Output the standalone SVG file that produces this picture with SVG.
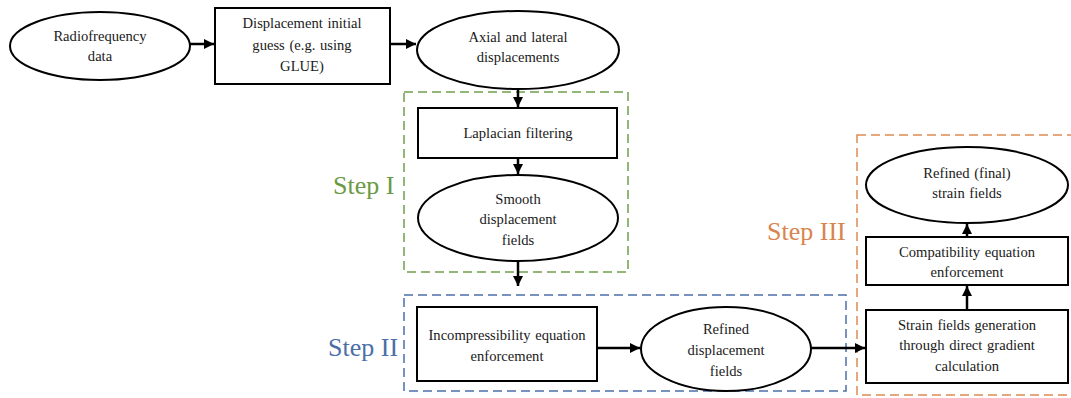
<svg xmlns="http://www.w3.org/2000/svg" width="1071" height="398" viewBox="0 0 1071 398">
<defs>
<marker id="ah" viewBox="0 0 10 10" refX="10" refY="5" markerWidth="4" markerHeight="4" orient="auto" markerUnits="strokeWidth">
<path d="M0,0 L10,5 L0,10 z" fill="#000"/>
</marker>
<style>
.n{fill:#fff;stroke:#000;stroke-width:2}
.t{font-family:"Liberation Serif","Times New Roman",serif;font-size:14.6px;fill:#1a1a1a;text-anchor:middle;word-spacing:1px}
.c{stroke:#000;stroke-width:2.5;fill:none;marker-end:url(#ah)}
.g{fill:none;stroke-width:1.5;stroke-dasharray:9 5}
.s{font-family:"Liberation Serif","Times New Roman",serif;font-size:26px}
</style>
</defs>
<rect width="1071" height="398" fill="#fff"/>
<g id="groups">
<rect class="g" x="404" y="92" width="224" height="180" stroke="#70a04a"/>
<rect class="g" x="404" y="295" width="442" height="96" stroke="#4a6fa8"/>
<rect class="g" x="857" y="135" width="220" height="260" stroke="#e08a52"/>
<text class="s" x="333" y="194" fill="#6a9a45">Step I</text>
<text class="s" x="328" y="356" fill="#4a6fa8">Step II</text>
<text class="s" x="767" y="240" fill="#d9844f">Step III</text>
</g>
<g id="n1"><ellipse class="n" cx="100" cy="46" rx="90" ry="34"/><text class="t" x="100" y="41">Radiofrequency</text><text class="t" x="100" y="61">data</text></g>
<g id="n2"><rect class="n" x="215" y="8" width="175" height="76"/><text class="t" x="302" y="28">Displacement initial</text><text class="t" x="302" y="50">guess (e.g. using</text><text class="t" x="302" y="71">GLUE)</text></g>
<g id="n3"><ellipse class="n" cx="518" cy="50" rx="101" ry="39"/><text class="t" x="518" y="42">Axial and lateral</text><text class="t" x="518" y="62">displacements</text></g>
<g id="n4"><rect class="n" x="418" y="108" width="199" height="50"/><text class="t" x="518" y="138">Laplacian filtering</text></g>
<g id="n5"><ellipse class="n" cx="518" cy="218" rx="100" ry="43"/><text class="t" x="518" y="204">Smooth</text><text class="t" x="518" y="224">displacement</text><text class="t" x="518" y="245">fields</text></g>
<g id="n6"><rect class="n" x="417" y="307" width="180" height="74"/><text class="t" x="507" y="340">Incompressibility equation</text><text class="t" x="507" y="361">enforcement</text></g>
<g id="n7"><ellipse class="n" cx="726" cy="349" rx="85" ry="42"/><text class="t" x="726" y="334">Refined</text><text class="t" x="726" y="355">displacement</text><text class="t" x="726" y="376">fields</text></g>
<g id="n8"><ellipse class="n" cx="967" cy="185" rx="101" ry="38"/><text class="t" x="967" y="178">Refined (final)</text><text class="t" x="967" y="198">strain fields</text></g>
<g id="n9"><rect class="n" x="866" y="237" width="202" height="48"/><text class="t" x="967" y="257">Compatibility equation</text><text class="t" x="967" y="277">enforcement</text></g>
<g id="n10"><rect class="n" x="866" y="310" width="202" height="73"/><text class="t" x="967" y="330">Strain fields generation</text><text class="t" x="967" y="350">through direct gradient</text><text class="t" x="967" y="371">calculation</text></g>
<g id="connectors">
<path class="c" d="M190,44 H214"/>
<path class="c" d="M390,44 H416"/>
<path class="c" d="M518,89 V107"/>
<path class="c" d="M518,158 V174"/>
<path class="c" d="M518,261 V286"/>
<path class="c" d="M597,348 H640"/>
<path class="c" d="M811,348 H865"/>
<path class="c" d="M967,310 V286"/>
<path class="c" d="M967,237 V224"/>
</g>
</svg>
